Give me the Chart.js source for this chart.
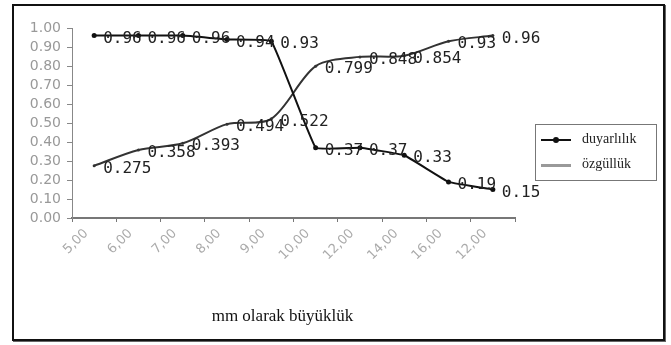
<!DOCTYPE html>
<html>
<head>
<meta charset="utf-8">
<script src="https://cdn.jsdelivr.net/npm/chart.js@4"></script>
<style>
  body { margin: 0; background: #fff; }
  #wrap { position: relative; width: 671px; height: 345px; }
  #mychart { position: absolute; left: 0; top: 0; }
  #frame { position: absolute; left: 12px; top: 4px; width: 649px; height: 333px; border: 2px solid #111; box-shadow: 1px 1px 0 #666; }
  #legend { position: absolute; left: 535px; top: 124px; width: 120px; height: 55px; border: 1px solid #777;
    font-family: "Liberation Serif", serif; font-size: 14px; color: #222; }
  .row { position: absolute; left: 0; height: 20px; width: 120px; }
  .sample { position: absolute; left: 5px; top: 9px; width: 30px; height: 2px; }
  .row span { position: absolute; left: 46px; top: 1px; }
  #title { position: absolute; left: 0; width: 565px; top: 306px; text-align: center;
    font-family: "Liberation Serif", serif; font-size: 17px; color: #111; }
</style>
</head>
<body>
<div id="wrap">
  <canvas id="mychart" width="671" height="345"></canvas>
  <div id="frame"></div>
  <div id="legend">
    <div class="row" style="top:5px"><div class="sample" style="background:#111"></div><div style="position:absolute;left:17px;top:7px;width:6px;height:6px;background:#111;border-radius:3px"></div><span>duyarlılık</span></div>
    <div class="row" style="top:30px"><div class="sample" style="background:#999;height:3px"></div><span>özgüllük</span></div>
  </div>
  <div id="title">mm olarak büyüklük</div>
</div>
<script>
const sizes = ['5,00', '6,00', '7,00', '8,00', '9,00', '10,00', '12,00', '14,00', '16,00', '12,00']
const duyarlilik = [0.96, 0.96, 0.96, 0.94, 0.93, 0.37, 0.37, 0.33, 0.19, 0.15]
const ozgulluk = [0.275, 0.358, 0.393, 0.494, 0.522, 0.799, 0.848, 0.854, 0.93, 0.96]
const yTicks = [0, 0.1, 0.2, 0.3, 0.4, 0.5, 0.6, 0.7, 0.8, 0.9, 1.0]

// draws the value next to every point
const valueLabels = {
    id: 'valueLabels',
    afterDatasetsDraw(chart) {
        const ctx = chart.ctx
        ctx.save()
        ctx.font = '16px "DejaVu Sans Mono"'
        ctx.fillStyle = '#222'
        ctx.textBaseline = 'middle'
        chart.data.datasets.forEach((ds, i) => {
            chart.getDatasetMeta(i).data.forEach((pt, j) => {
                ctx.fillText(String(ds.data[j]), pt.x + 9, pt.y + 3)
            })
        })
        ctx.restore()
    }
}

const dataConfig = {
    labels: sizes,
    datasets: [{
        label: 'duyarlılık',
        data: duyarlilik,
        borderColor: '#111',
        backgroundColor: '#111',
        borderWidth: 2,
        pointRadius: 2.5,
        pointBorderWidth: 0,
        tension: 0.08
    }, {
        label: 'özgüllük',
        data: ozgulluk,
        borderColor: '#333',
        backgroundColor: '#333',
        borderWidth: 2,
        pointRadius: 1.5,
        pointBorderWidth: 0,
        tension: 0.3
    }]
}

const config = {
    type: 'line',
    data: dataConfig,
    options: {
        responsive: false,
        animation: false,
        layout: { padding: { left: 0, right: 156, top: 28, bottom: 0 } },
        plugins: { legend: { display: false }, tooltip: { enabled: false } },
        scales: {
            x: {
                offset: true,
                grid: { offset: true, drawOnChartArea: false, tickLength: 4, color: '#777' },
                border: { color: '#777', width: 2 },
                ticks: {
                    minRotation: 45, maxRotation: 45, labelOffset: -8, padding: 4, autoSkip: false,
                    color: '#aaa', font: { family: 'DejaVu Sans', size: 13 }
                },
                afterFit(scale) { scale.height = 345 - 218 }
            },
            y: {
                min: 0, max: 1,
                afterBuildTicks(scale) { scale.ticks = yTicks.map(v => ({ value: v })) },
                grid: { drawOnChartArea: false, tickLength: 5, color: '#888' },
                border: { color: '#888', width: 1 },
                ticks: {
                    padding: 6, autoSkip: false, color: '#999', font: { family: 'DejaVu Sans', size: 14 },
                    callback: v => v.toFixed(2)
                },
                afterFit(scale) { scale.width = 72 }
            }
        }
    },
    plugins: [valueLabels]
}

const mychart = new Chart(document.querySelector('#mychart'), config)
</script>
</body>
</html>
